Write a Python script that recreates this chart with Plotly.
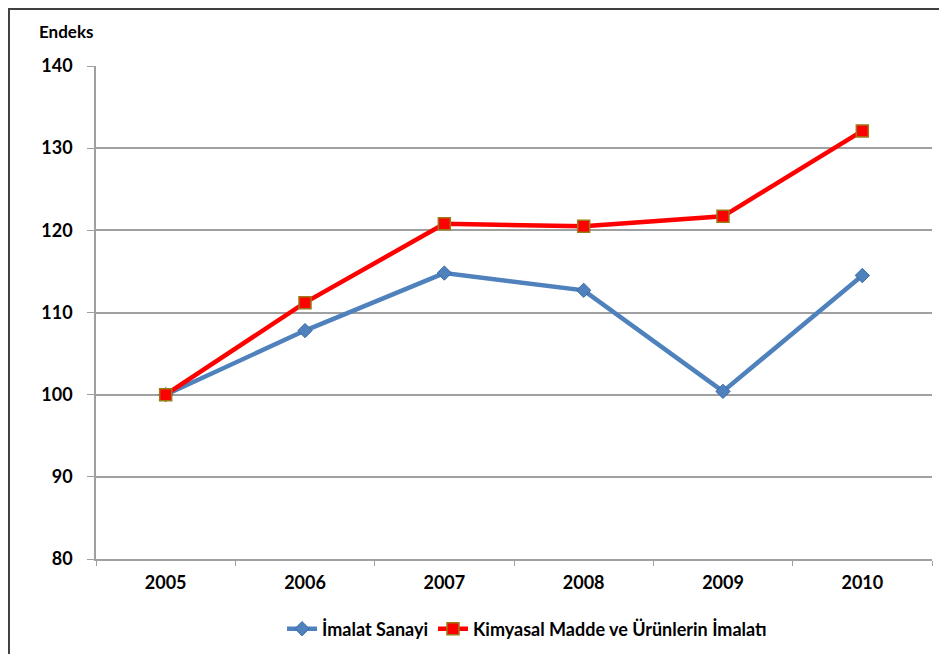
# Endeks chart: İmalat Sanayi vs Kimyasal Madde
import plotly.graph_objects as go

# data
years = ["2005", "2006", "2007", "2008", "2009", "2010"]
imalat = [100.0, 107.8, 114.8, 112.7, 100.4, 114.5]
kimya = [100.0, 111.2, 120.8, 120.5, 121.7, 132.1]

font_name = "Lato"
grid = "#A0A0A0"

fig = go.Figure()
fig.add_trace(go.Scatter(
    x=years, y=imalat, name="İmalat Sanayi", mode="lines+markers",
    line=dict(color="#4F81BD", width=4.5),
    marker=dict(symbol="diamond", size=11, color="#4F81BD",
                line=dict(color="#3A6AA5", width=1))))
fig.add_trace(go.Scatter(
    x=years, y=kimya, name="Kimyasal Madde ve Ürünlerin İmalatı", mode="lines+markers",
    line=dict(color="#FF0000", width=4.5),
    marker=dict(symbol="square", size=12, color="#FF0000",
                line=dict(color="#9C7A18", width=1.5))))

fig.update_xaxes(type="category", range=[-0.5, 5.5], tickson="boundaries", ticks="outside", ticklen=5,
                 tickcolor=grid, showline=True, linecolor=grid, linewidth=1.5,
                 showgrid=False, ticklabelstandoff=7, automargin=False,
                 tickfont=dict(family=font_name, size=18, color="black", weight="bold"))
fig.update_yaxes(range=[80, 140], dtick=10, ticks="outside", ticklen=7,
                 tickcolor=grid, showline=True, linecolor=grid, linewidth=1.5,
                 showgrid=True, gridcolor=grid, gridwidth=1.5, zeroline=False,
                 ticklabelstandoff=11, automargin=False,
                 tickfont=dict(family=font_name, size=18, color="black", weight="bold"))

fig.add_annotation(text="<b>Endeks</b>", xref="paper", yref="paper", x=-0.0706, y=1.069,
                   xanchor="left", yanchor="middle", showarrow=False,
                   font=dict(family=font_name, size=17, color="black"))

# outer frame
fig.add_shape(type="rect", xref="paper", yref="paper", x0=-0.1041, x1=1.0156,
              y0=-0.25, y1=1.1156, fillcolor="rgba(0,0,0,0)", opacity=1,
              line=dict(color="#404040", width=2))

# page body has an 8px margin, so the figure is 8px smaller
fig.update_layout(width=939, height=646, template="simple_white",
                  plot_bgcolor="white", paper_bgcolor="white",
                  margin=dict(l=88, r=15, t=58, b=95),
                  showlegend=True,
                  legend=dict(orientation="h", x=0.5156, y=0.0387, yref="container",
                              xanchor="center", yanchor="middle",
                              font=dict(family=font_name, size=18, color="black", weight="bold"),
                              itemwidth=30, tracegroupgap=0))

fig.write_html("out.html")
